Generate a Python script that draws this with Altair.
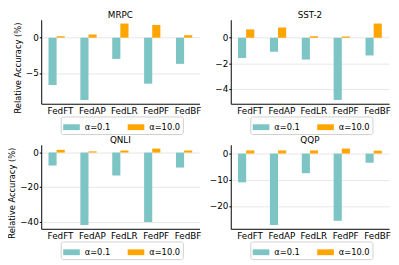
import altair as alt
import pandas as pd

methods = ["FedFT", "FedAP", "FedLR", "FedPF", "FedBF"]
alphas = ["α=0.1", "α=10.0"]
tasks = ["MRPC", "SST-2", "QNLI", "QQP"]

mrpc_low = [-6.7, -8.8, -3.0, -6.5, -3.7]
mrpc_high = [0.2, 0.45, 2.0, 1.8, 0.35]
sst2_low = [-1.58, -1.09, -1.70, -4.85, -1.38]
sst2_high = [0.65, 0.8, 0.12, 0.1, 1.11]
qnli_low = [-7.5, -42.0, -13.3, -40.3, -8.7]
qnli_high = [1.6, 0.7, 1.2, 2.3, 1.2]
qqp_low = [-11.0, -27.3, -7.5, -25.7, -3.5]
qqp_high = [1.2, 1.2, 1.2, 1.9, 1.1]

mrpc_ticks = [-5, 0]
sst2_ticks = [-4, -2, 0]
qnli_ticks = [-40, -20, 0]
qqp_ticks = [-20, -10, 0]

TEAL = "#7DC4C4"
ORANGE = "#FFA500"
FONT = "DejaVu Sans"
W, H = 162, 86


def panel(task, low, high, ticks, left):
    df = pd.DataFrame({
        "method": methods * 2,
        "alpha": [alphas[0]] * len(methods) + [alphas[1]] * len(methods),
        "value": low + high,
    })
    vals = low + high + [0]
    lo, hi = min(vals), max(vals)
    m = 0.05 * (hi - lo)
    y_axis = alt.Axis(
        values=ticks,
        title=("Relative Accuracy (%)" if left else None),
        grid=True,
        tickSize=2,
        labelPadding=1,
        titlePadding=3,
        titleY=H / 2 + 6,
        titleFontSize=8.5,
    )
    bars = (
        alt.Chart(df)
        .mark_bar()
        .encode(
            x=alt.X(
                "method:N",
                sort=methods,
                scale=alt.Scale(paddingInner=0.49, paddingOuter=0.228),
                axis=alt.Axis(title=None, labelAngle=0, tickSize=0, labelOffset=4,
                              labelPadding=3, grid=False),
            ),
            xOffset=alt.XOffset("alpha:N", sort=alphas,
                                scale=alt.Scale(paddingInner=0, paddingOuter=0)),
            y=alt.Y("value:Q", scale=alt.Scale(domain=[lo - m, hi + m], nice=False, zero=False),
                    axis=y_axis),
            color=alt.Color(
                "alpha:N",
                scale=alt.Scale(domain=alphas, range=[TEAL, ORANGE]),
                legend=alt.Legend(
                    title=None, orient="none", legendX=20, legendY=H + 13,
                    direction="horizontal", columns=2,
                ),
            ),
        )
    )
    title = (
        alt.Chart(pd.DataFrame({"name": [task]}))
        .mark_text(font=FONT, fontSize=9, color="black", baseline="alphabetic", align="center")
        .encode(text="name:N", x=alt.value(W / 2), y=alt.value(-2))
    )
    return alt.layer(bars, title).properties(width=W, height=H)


chart = (
    alt.concat(
        panel("MRPC", mrpc_low, mrpc_high, mrpc_ticks, True),
        panel("SST-2", sst2_low, sst2_high, sst2_ticks, False),
        panel("QNLI", qnli_low, qnli_high, qnli_ticks, True),
        panel("QQP", qqp_low, qqp_high, qqp_ticks, False),
        columns=2,
        spacing={"row": 42, "column": 32},
    )
    .resolve_scale(x="independent", y="independent")
    .resolve_legend(color="independent")
    .properties(bounds="flush", padding=0)
    .configure_view(strokeWidth=0)
    .configure_axis(
        labelFont=FONT, labelFontSize=9, labelColor="black",
        titleFont=FONT, titleFontSize=9, titleFontWeight="normal", titleColor="black",
        domainColor="black", domainWidth=1, tickColor="black",
        gridColor="#e6e6e6", gridWidth=1,
    )
    .configure_legend(
        labelFont=FONT, labelFontSize=8.5, labelColor="black",
        symbolType="M-1,-0.35H1V0.35H-1Z", symbolSize=289, symbolStrokeWidth=0,
        labelOffset=5, columnPadding=17, padding=2.5,
        strokeColor="#d0d0d0", cornerRadius=2, fillColor="white",
    )
)

chart.save("out.html", embed_options={"renderer": "svg", "actions": False})
